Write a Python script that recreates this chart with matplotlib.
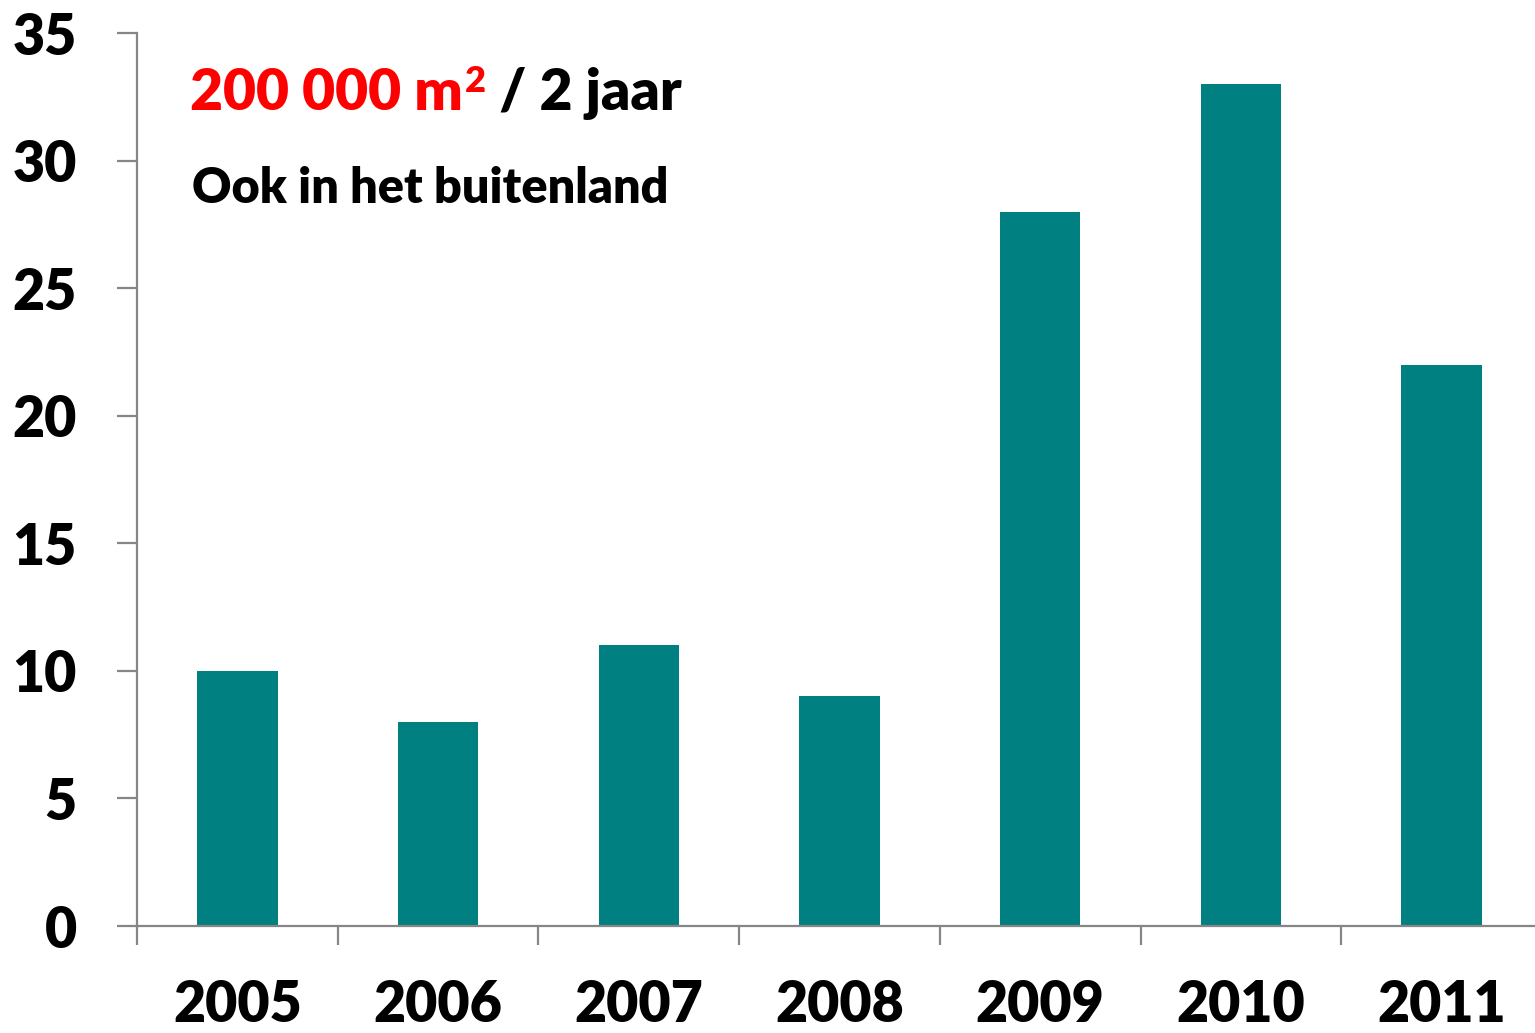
import matplotlib
matplotlib.use("Agg")
import matplotlib.pyplot as plt
import numpy as np

# data
years = ["2005", "2006", "2007", "2008", "2009", "2010", "2011"]
values = [10, 8, 11, 9, 28, 33, 22]
y_ticks = [0, 5, 10, 15, 20, 25, 30, 35]

plt.rcParams['font.family'] = ['Lato', 'DejaVu Sans']
plt.rcParams['font.weight'] = 'heavy'

bar_color = '#008080'
axis_color = '#868686'
wt = 'heavy'

fig = plt.figure(figsize=(15.35, 10.33), dpi=100)
W, H = 1535, 1033
ax = fig.add_axes([137 / W, 107 / H, 1405 / W, 893 / H])

x = np.arange(len(years))
ax.bar(x, values, width=0.4, color=bar_color, zorder=2)

ax.set_xlim(-0.5, len(years) - 0.5)
ax.set_ylim(0, 35)

# 坐标轴样式
for s in ('top', 'right'):
    ax.spines[s].set_visible(False)
for s in ('left', 'bottom'):
    ax.spines[s].set_color(axis_color)
    ax.spines[s].set_linewidth(1.6)

ax.set_yticks(y_ticks)
ax.set_yticklabels([str(v) for v in y_ticks])
ax.tick_params(axis='y', direction='out', length=14.4, width=1.6, color=axis_color,
               labelsize=40, pad=29)

ax.set_xticks(x)
ax.set_xticklabels(years)
ax.set_xticks(np.arange(-0.5, len(years)), minor=True)
ax.tick_params(axis='x', which='major', length=0, labelsize=40, pad=38)
ax.tick_params(axis='x', which='minor', direction='out', length=14, width=1.6,
               color=axis_color)
for lab in ax.get_xticklabels() + ax.get_yticklabels():
    lab.set_fontweight(wt)

# 标注文字: red part, superscript, black part
r = fig.canvas.get_renderer()
t1 = fig.text(190 / W, 1 - 110 / H, "200 000 m", color='#ff0000', fontsize=41,
              fontweight=wt, ha='left', va='baseline')
bb = t1.get_window_extent(r)
t2 = fig.text((bb.x1 + 2) / W, 1 - 92 / H, "2", color='#ff0000', fontsize=26,
              fontweight=wt, ha='left', va='baseline')
bb2 = t2.get_window_extent(r)
fig.text(bb2.x1 / W, 1 - 110 / H, " / 2 jaar", color='black', fontsize=41,
         fontweight=wt, ha='left', va='baseline')
fig.text(192 / W, 1 - 203 / H, "Ook in het buitenland", color='black', fontsize=35,
         fontweight=wt, ha='left', va='baseline')

fig.savefig("out.png", dpi=100)
